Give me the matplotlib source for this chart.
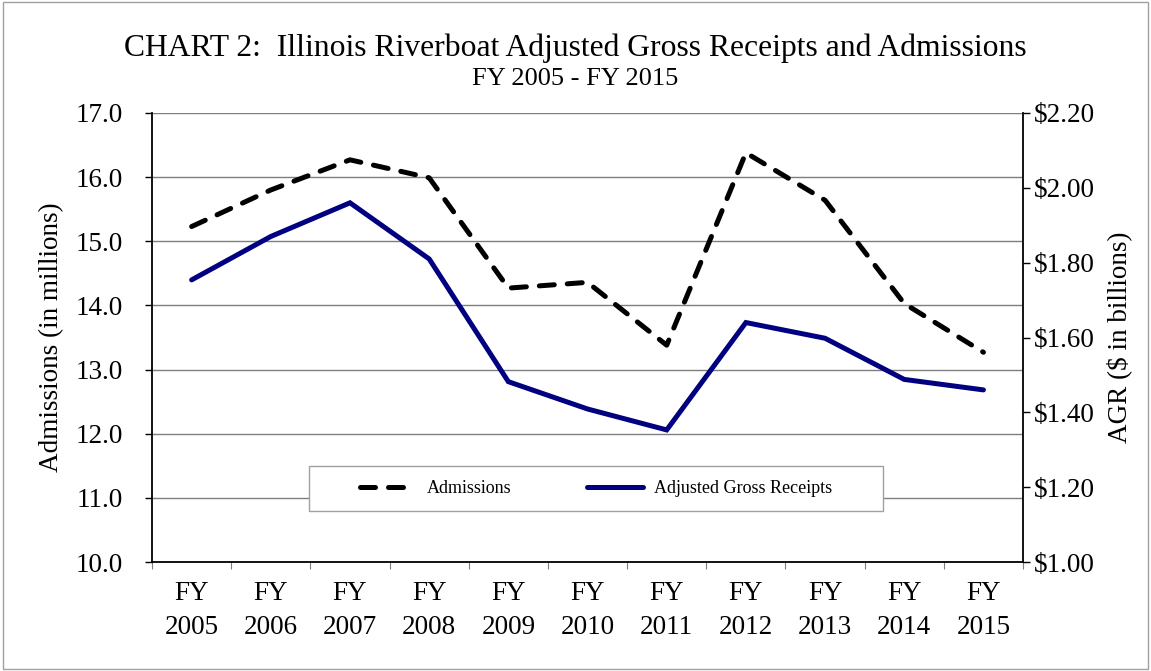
import numpy as np
import matplotlib
matplotlib.use("Agg")
import matplotlib.pyplot as plt
from matplotlib.patches import Rectangle
from matplotlib.ticker import FuncFormatter

plt.rcParams['font.family'] = ['Liberation Serif', 'DejaVu Serif']

# Fiscal years and series values
years = ["2005", "2006", "2007", "2008", "2009", "2010",
         "2011", "2012", "2013", "2014", "2015"]
admissions = [15.23, 15.80, 16.27, 15.99, 14.27, 14.36,
              13.38, 16.38, 15.64, 14.03, 13.27]          # millions
agr = [1.754, 1.870, 1.960, 1.810, 1.482, 1.409,
       1.353, 1.640, 1.598, 1.488, 1.460]                 # $ billions

x = np.arange(len(years))

fig = plt.figure(figsize=(11.51, 6.71), dpi=100)
fig.subplots_adjust(left=0.1321, right=0.8888, top=0.8316, bottom=0.1624)
ax = fig.add_subplot(111)
ax2 = ax.twinx()

# outer chart border
fig.patches.append(Rectangle((0.003, 0.003), 0.994, 0.994, transform=fig.transFigure,
                             fill=False, edgecolor="#a0a0a0", linewidth=1.0))

# left axis: admissions
ax.set_xlim(-0.5, len(years) - 0.5)
ax.set_ylim(10, 17)
ax.set_yticks(np.arange(10, 17.01, 1.0))
ax.yaxis.set_major_formatter(FuncFormatter(lambda v, p: f"{v:.1f}"))
ax.grid(axis="y", color="#7f7f7f", linewidth=1.0)
ax.set_axisbelow(True)
ax.tick_params(axis="y", direction="out", length=5, width=1, labelsize=19.5, pad=16)

# category boundaries carry the tick marks, centres carry the labels
ax.set_xticks(np.arange(-0.5, len(years), 1.0))
ax.set_xticklabels([])
ax.set_xticks(x, minor=True)
ax.set_xticklabels([f"FY\n{y}" for y in years], minor=True, fontsize=19.5, linespacing=1.45)
ax.tick_params(axis="x", which="major", direction="out", length=5, width=0.8, color="#7f7f7f")
ax.tick_params(axis="x", which="minor", length=0, pad=14)

for side in ["left", "bottom"]:
    ax.spines[side].set_color("black")
    ax.spines[side].set_linewidth(1.3)
ax.spines["top"].set_visible(False)
ax.spines["right"].set_visible(False)
ax2.spines["top"].set_visible(False)
ax2.spines["left"].set_visible(False)
ax2.spines["bottom"].set_visible(False)
ax2.spines["right"].set_linewidth(1.3)

line_adm, = ax.plot(x, admissions, color="black", linewidth=3.6,
                    dashes=(3.0, 2.6), dash_capstyle="round", solid_capstyle="round",
                    label="Admissions", zorder=3)

# right axis: adjusted gross receipts
ax2.set_ylim(1.0, 2.2)
ax2.set_yticks(np.arange(1.0, 2.201, 0.2))
ax2.yaxis.set_major_formatter(FuncFormatter(lambda v, p: f"${v:.2f}"))
ax2.tick_params(axis="y", direction="out", length=5, width=1, labelsize=19.5, pad=3)
line_agr, = ax2.plot(x, agr, color="#000080", linewidth=3.6,
                     solid_capstyle="round", solid_joinstyle="miter",
                     label="Adjusted Gross Receipts", zorder=3)

ax.set_ylabel("Admissions (in millions)", fontsize=19.5, labelpad=8)
ax2.set_ylabel("AGR ($ in billions)", fontsize=19.5, rotation=90, labelpad=8)

# legend box
ax2.add_patch(Rectangle((0.180, 0.1136), 0.659, 0.100, transform=ax2.transAxes,
                        facecolor="white", edgecolor="#a0a0a0", linewidth=1.0, zorder=2))
ax2.legend(handles=[line_adm, line_agr], loc="center", ncol=2, frameon=False,
           bbox_to_anchor=(0.5095, 0.1636), fontsize=13, handlelength=3.1,
           handletextpad=0.6, columnspacing=4.2)

fig.text(0.5, 0.928, "CHART 2:  Illinois Riverboat Adjusted Gross Receipts and Admissions",
         ha="center", va="center", fontsize=22.8)
fig.text(0.5, 0.882, "FY 2005 - FY 2015", ha="center", va="center", fontsize=19)

fig.savefig("out.png", dpi=100)
